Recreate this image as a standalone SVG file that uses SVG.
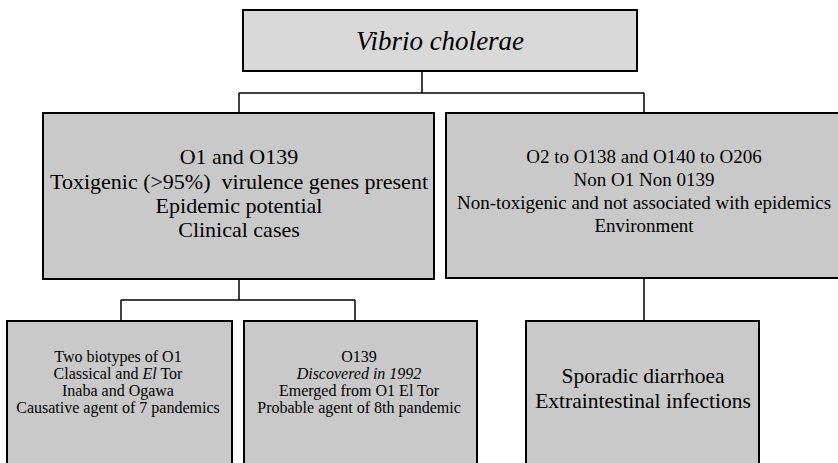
<svg xmlns="http://www.w3.org/2000/svg" width="838" height="463" viewBox="0 0 838 463">
<style>
.box{fill:#c9c9c9;stroke:#000;stroke-width:2}
.top{fill:#d9d9d9;stroke:#000;stroke-width:2}
text{fill:#000;text-anchor:middle}
.conn line{stroke:#000;stroke-width:1.5}
</style>
<rect width="838" height="463" fill="#fff"/>
<g id="connectors" class="conn">
<line x1="422" y1="71" x2="422" y2="93"/>
<line x1="239" y1="93" x2="644" y2="93"/>
<line x1="239" y1="93" x2="239" y2="113"/>
<line x1="644" y1="93" x2="644" y2="113"/>
<line x1="239" y1="279" x2="239" y2="300"/>
<line x1="121" y1="300" x2="355" y2="300"/>
<line x1="121" y1="300" x2="121" y2="321"/>
<line x1="355" y1="300" x2="355" y2="321"/>
<line x1="644" y1="278" x2="644" y2="321"/>
</g>
<g font-family="Liberation Serif, DejaVu Serif, serif">
<g id="vibrio">
<rect class="top" x="243" y="10" width="394" height="61"/>
<text x="440" y="50" font-size="27" font-style="italic">Vibrio cholerae</text>
</g>
<g id="o1o139">
<rect class="box" x="43" y="113" width="391" height="166"/>
<text font-size="22"><tspan x="239" y="164">O1 and O139</tspan><tspan x="239" y="189">Toxigenic (&gt;95%)&#160; virulence genes present</tspan><tspan x="239" y="213">Epidemic potential</tspan><tspan x="239" y="237">Clinical cases</tspan></text>
</g>
<g id="nono1">
<rect class="box" x="446" y="113" width="400" height="165"/>
<text font-size="19"><tspan x="644" y="163">O2 to O138 and O140 to O206</tspan><tspan x="644" y="186">Non O1 Non 0139</tspan><tspan x="644" y="209">Non-toxigenic and not associated with epidemics</tspan><tspan x="644" y="232">Environment</tspan></text>
</g>
<g id="o1">
<rect class="box" x="7" y="321" width="225" height="150"/>
<text font-size="16"><tspan x="118" y="362">Two biotypes of O1</tspan><tspan x="118" y="379">Classical and <tspan font-style="italic">El</tspan> Tor</tspan><tspan x="118" y="396">Inaba and Ogawa</tspan><tspan x="118" y="413">Causative agent of 7 pandemics</tspan></text>
</g>
<g id="o139">
<rect class="box" x="244" y="321" width="233" height="150"/>
<text font-size="16"><tspan x="359" y="362">O139</tspan><tspan x="359" y="379" font-style="italic">Discovered in 1992</tspan><tspan x="359" y="396">Emerged from O1 El Tor</tspan><tspan x="359" y="413">Probable agent of 8th pandemic</tspan></text>
</g>
<g id="sporadic">
<rect class="box" x="526" y="321" width="233" height="150"/>
<text font-size="21.5"><tspan x="643" y="383">Sporadic diarrhoea</tspan><tspan x="643" y="408">Extraintestinal infections</tspan></text>
</g>
</g>
</svg>
